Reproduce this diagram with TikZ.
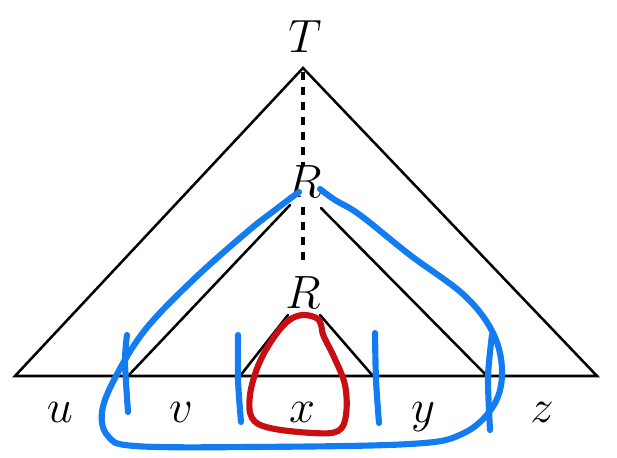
\documentclass[tikz,border=0pt]{standalone}
\definecolor{penblue}{RGB}{18,124,240}
\definecolor{penred}{RGB}{200,14,18}
\newcommand{\biglbl}[1]{\scalebox{1.407}{\Huge$#1$}}
\tikzset{
  edge/.style={line width=1.9pt, line cap=round},
  dots/.style={line width=3pt, dash pattern=on 6pt off 5.2pt},
  lab/.style={inner sep=0pt, anchor=base},
  bluepen/.style={penblue, line width=4.6pt, line cap=round, line join=round},
  redpen/.style={penred, line width=4.6pt, line cap=round, line join=round}
}
\begin{document}
\begin{tikzpicture}[x=0.75pt, y=-0.75pt]
\useasboundingbox (0,0) rectangle (617,457);
% labels
\node[lab] (T) at (305,52) {\biglbl{T}};
\node[lab] (R1) at (304,197) {\biglbl{R}};
\node[lab] (R2) at (303,308) {\biglbl{R}};
\node[lab] (u) at (60,422) {\biglbl{u}};
\node[lab] (v) at (181,422) {\biglbl{v}};
\node[lab] (x) at (302,422) {\biglbl{x}};
\node[lab] (y) at (423,422) {\biglbl{y}};
\node[lab] (z) at (542,422) {\biglbl{z}};
% outer triangle
\coordinate (top) at (303,68);
\coordinate (bl) at (15,376);
\coordinate (br) at (597,376);
\draw[edge] (bl) -- (top) -- (br) -- cycle;
% middle triangle sides
\coordinate (m1) at (290,205);
\coordinate (m2) at (128,376);
\coordinate (m3) at (321,208);
\coordinate (m4) at (487,376);
\draw[edge] (m1) -- (m2);
\draw[edge] (m3) -- (m4);
% small triangle sides
\coordinate (s1) at (288,315);
\coordinate (s2) at (240,376);
\coordinate (s3) at (320,315);
\coordinate (s4) at (373,376);
\draw[edge] (s1) -- (s2);
\draw[edge] (s3) -- (s4);
% dotted spine
\coordinate (d1) at (303,72);
\coordinate (d2) at (303,166);
\coordinate (d3) at (303,207);
\coordinate (d4) at (303,262);
\draw[dots] (d1) -- (d2);
\draw[dots] (d3) -- (d4);
% blue loop
\draw[bluepen] plot[smooth, tension=0.6] coordinates {
  (299,192) (275,210) (247,232) (193,280) (145,330)
  (115,378) (102,412) (108,436) (135,446) (250,447)
  (410,444) (462,434) (492,408) (502,375) (494,335)
  (465,296) (410,255) (360,215) (335,200) (320,189)};
% blue vertical strokes
\draw[bluepen] plot[smooth] coordinates {(127,335) (125,362) (128,412)};
\draw[bluepen] plot[smooth] coordinates {(238,335) (238,380) (241,422)};
\draw[bluepen] plot[smooth] coordinates {(375,333) (376,380) (379,423)};
\draw[bluepen] plot[smooth] coordinates {(492,335) (488,377) (490,430)};
% red loop
\draw[redpen] plot[smooth, tension=0.6] coordinates {
  (322,330) (318,319) (303,315) (288,321) (272,340)
  (258,366) (250,395) (252,418) (270,428) (313,433)
  (338,431) (346,415) (345,385) (334,357) (324,337) (322,330)};
\end{tikzpicture}
\end{document}
